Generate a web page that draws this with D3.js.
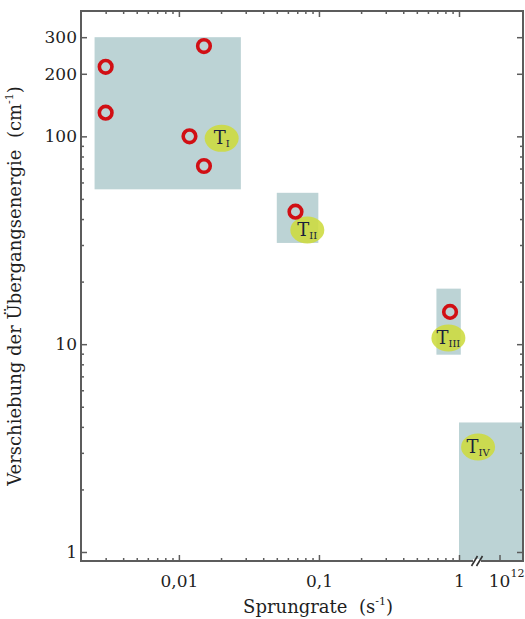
<!DOCTYPE html>
<html><head><meta charset="utf-8">
<script src="https://cdn.jsdelivr.net/npm/d3@7"></script>
<style>html,body{margin:0;padding:0;background:#fff;}svg{display:block;}</style>
</head><body>
<svg id="chart" width="525" height="619"></svg>
<script>
// ---- data ----
const rateTickValues = [0.01, 0.1, 1];
const rateTickLabels = ["0,01", "0,1", "1"];
const rateMinorTicks = [0.003,0.004,0.005,0.006,0.007,0.008,0.009,
                        0.02,0.03,0.04,0.05,0.06,0.07,0.08,0.09,
                        0.2,0.3,0.4,0.5,0.6,0.7,0.8,0.9];
const highRateTick = 1e12;
const highRateLabelBase = "10";
const highRateLabelExp = "12";
const shiftTickValues = [1, 10, 100, 200, 300];
const shiftTickLabels = ["1", "10", "100", "200", "300"];
const shiftMinorTicks = [2,3,4,5,6,7,8,9,20,30,40,50,60,70,80,90];

const regionNames = ["I", "II", "III", "IV"];
const regionRateMin = [0.0025, 0.05, 0.69, 1];
const regionRateMax = [0.0277, 0.099, 1.03, 3.16e12];
const regionShiftMin = [55.6, 30.7, 8.9, 0.905];
const regionShiftMax = [300, 53.5, 18.5, 4.2];
const labelRate = [0.0202, 0.0826, 0.84, 3.5e11];
const labelShift = [97.8, 35.4, 10.7, 3.2];

const pointRate = [0.003, 0.003, 0.0151, 0.0119, 0.0151, 0.068, 0.863];
const pointShift = [216, 130, 272, 100, 72, 43.4, 14.3];

// ---- layout ----
const mLeft = 81, mRight = 523, mTop = 11, mBottom = 561;
const breakX = 477;
const font = "'DejaVu Serif', 'Liberation Serif', serif";
const axisColor = "#5c5c5c";
const textColor = "#1f1f1f";

const svg = d3.select("#chart");

const xLow = d3.scaleLog().domain([0.002, 1]).range([mLeft, 459]);
const xHigh = d3.scaleLog().domain([3.16e11, 3.16e12]).range([476, mRight]);
const x = v => (v <= 10 ? xLow(v) : xHigh(v));
const y = d3.scaleLog().domain([0.905, 401]).range([mBottom, mTop]);

// regions
const regions = regionNames.map((n, i) => ({n, x0: regionRateMin[i], x1: regionRateMax[i], y0: regionShiftMin[i], y1: regionShiftMax[i], lx: labelRate[i], ly: labelShift[i]}));
svg.append("g").selectAll("rect").data(regions).join("rect")
  .attr("x", d => x(d.x0)).attr("width", d => x(d.x1) - x(d.x0))
  .attr("y", d => y(d.y1)).attr("height", d => y(d.y0) - y(d.y1))
  .attr("fill", "#bcd3d5");

// axes (ticks inward)
function styleAxis(g) {
  g.select(".domain").remove();
  g.selectAll("line").attr("stroke", axisColor).attr("stroke-width", 1.5);
  g.selectAll("text").attr("font-family", font).attr("font-size", 17).attr("fill", textColor);
}
// bottom
svg.append("g").attr("transform", `translate(0,${mBottom})`)
  .call(d3.axisBottom(xLow).tickValues(rateMinorTicks).tickSize(-3).tickFormat("")).call(styleAxis);
svg.append("g").attr("transform", `translate(0,${mBottom})`)
  .call(d3.axisBottom(xLow).tickValues(rateTickValues).tickSize(-6).tickPadding(14)
    .tickFormat((d, i) => rateTickLabels[i])).call(styleAxis);
svg.append("g").attr("transform", `translate(0,${mBottom})`)
  .call(d3.axisBottom(xHigh).tickValues([highRateTick]).tickSize(-6).tickFormat("")).call(styleAxis);
svg.append("text").attr("x", xHigh(highRateTick)).attr("y", 587).attr("text-anchor", "middle")
  .attr("font-family", font).attr("font-size", 17).attr("fill", textColor).text(highRateLabelBase);
svg.append("text").attr("x", xHigh(highRateTick) + 11).attr("y", 577)
  .attr("font-family", font).attr("font-size", 11).attr("fill", textColor).text(highRateLabelExp);
// top
svg.append("g").attr("transform", `translate(0,${mTop})`)
  .call(d3.axisTop(xLow).tickValues(rateMinorTicks).tickSize(-3).tickFormat("")).call(styleAxis);
svg.append("g").attr("transform", `translate(0,${mTop})`)
  .call(d3.axisTop(xLow).tickValues(rateTickValues).tickSize(-6).tickFormat("")).call(styleAxis);
// left
svg.append("g").attr("transform", `translate(${mLeft},0)`)
  .call(d3.axisLeft(y).tickValues(shiftMinorTicks).tickSize(-3).tickFormat("")).call(styleAxis);
svg.append("g").attr("transform", `translate(${mLeft},0)`)
  .call(d3.axisLeft(y).tickValues(shiftTickValues).tickSize(-6).tickPadding(4)
    .tickFormat((d, i) => shiftTickLabels[i])).call(styleAxis);
// right
svg.append("g").attr("transform", `translate(${mRight},0)`)
  .call(d3.axisRight(y).tickValues(shiftMinorTicks).tickSize(-3).tickFormat("")).call(styleAxis);
svg.append("g").attr("transform", `translate(${mRight},0)`)
  .call(d3.axisRight(y).tickValues(shiftTickValues).tickSize(-6).tickFormat("")).call(styleAxis);

// frame
svg.append("path")
  .attr("d", `M${mLeft},${mTop}H${mRight}V${mBottom}H${mLeft}Z`)
  .attr("fill", "none").attr("stroke", axisColor).attr("stroke-width", 2);

// axis break
svg.append("rect").attr("x", breakX - 4).attr("y", mBottom - 2).attr("width", 8).attr("height", 4).attr("fill", "#fff");
const brk = svg.append("g").attr("stroke", "#333").attr("stroke-width", 1.6);
[-2.5, 2.5].forEach(o => brk.append("line")
  .attr("x1", breakX + o - 3).attr("y1", mBottom + 5).attr("x2", breakX + o + 3).attr("y2", mBottom - 5));

// label ellipses
const lab = svg.append("g").selectAll("g").data(regions).join("g")
  .attr("transform", d => `translate(${x(d.lx)},${y(d.ly)})`);
lab.append("ellipse").attr("rx", 17).attr("ry", 13.5).attr("fill", "#cddb3e").attr("opacity", 0.88);
const tt = lab.append("text").attr("text-anchor", "middle").attr("y", 6)
  .attr("font-family", font).attr("fill", "#1a1f3c");
tt.append("tspan").attr("font-size", 18).text("T");
tt.append("tspan").attr("font-size", 10).attr("dy", 3).text(d => d.n);

// points
svg.append("g").selectAll("circle").data(pointRate.map((r, i) => [r, pointShift[i]])).join("circle")
  .attr("cx", d => x(d[0])).attr("cy", d => y(d[1])).attr("r", 6.3)
  .attr("fill", "none").attr("stroke", "#d10f14").attr("stroke-width", 3.6);

// axis titles
const xt = svg.append("text").attr("x", 318).attr("y", 613).attr("text-anchor", "middle")
  .attr("font-family", font).attr("font-size", 18).attr("fill", textColor);
xt.append("tspan").text("Sprungrate\u00a0\u00a0(s");
xt.append("tspan").attr("font-size", 11).attr("dy", -8).text("-1");
xt.append("tspan").attr("dy", 8).text(")");

const yt = svg.append("text").attr("transform", "translate(21,286) rotate(-90)").attr("text-anchor", "middle")
  .attr("font-family", font).attr("font-size", 18).attr("fill", textColor);
yt.append("tspan").text("Verschiebung der Übergangsenergie\u00a0\u00a0(cm");
yt.append("tspan").attr("font-size", 11).attr("dy", -8).text("-1");
yt.append("tspan").attr("dy", 8).text(")");
</script>
</body></html>
